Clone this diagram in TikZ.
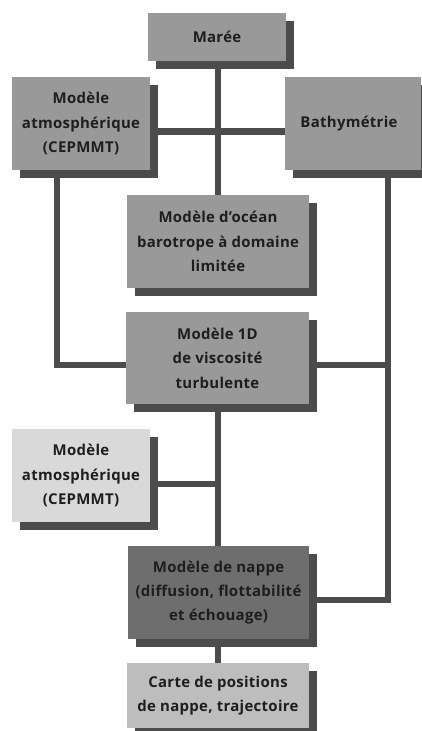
\documentclass[tikz,border=0pt]{standalone}
\usepackage{fontspec}
\setmainfont{Open Sans}[LetterSpace=2]
\definecolor{boxgray}{HTML}{999999}
\definecolor{lightgray}{HTML}{D9D9D9}
\definecolor{cartegray}{HTML}{BDBDBD}
\definecolor{darkbox}{HTML}{6E6E6E}
\definecolor{shadowgray}{HTML}{4C4C4C}
\definecolor{textgray}{HTML}{1E1E1E}
\begin{document}
\begin{tikzpicture}[x=1bp,y=-1bp,
  box/.style={rectangle, fill=boxgray, inner sep=0pt, align=center,
    text=textgray, font=\bfseries\fontsize{15}{24.5}\selectfont,
    drop shadow box},
  drop shadow box/.style={preaction={fill=shadowgray, transform canvas={shift={(8bp,-8bp)}}}},
  link/.style={draw=shadowgray, line width=6bp}]
\useasboundingbox (0,0) rectangle (421,731);
% coordinates for lines
\coordinate (lc) at (57,365);
\coordinate (rc) at (388,365);
\coordinate (rb) at (388,600);
\begin{scope}[every node/.style={inner sep=0pt}]
\path
 (217,37) node[minimum width=138bp, minimum height=48bp] (maree) {}
 (81,123.5) node[minimum width=138bp, minimum height=93bp] (atm1) {}
 (353,123.5) node[minimum width=136bp, minimum height=93bp] (bathy) {}
 (218,241.5) node[minimum width=182bp, minimum height=93bp] (ocean) {}
 (217.5,358) node[minimum width=183bp, minimum height=92bp] (oned) {}
 (81,475.5) node[minimum width=138bp, minimum height=93bp] (atm2) {}
 (218.5,592.5) node[minimum width=181bp, minimum height=93bp] (nappe) {}
 (218,695.5) node[minimum width=182bp, minimum height=65bp] (carte) {};
\end{scope}
\coordinate (mid) at (218,131.5);
\coordinate (mid2) at (218,484);
\draw[link] (218,37) -- (218,241.5);
\draw[link] (atm1.east |- mid) -- (bathy.west |- mid);
\draw[link] (atm1.south -| lc) -- (lc) -- (oned.west |- lc);
\draw[link] (oned.east |- rc) -- (rc);
\draw[link] (bathy.south -| rb) -- (rb) -- (nappe.east |- rb);
\draw[link] (218,358) -- (218,695.5);
\draw[link] (atm2.east |- mid2) -- (mid2);
% boxes
\node[box, minimum width=138bp, minimum height=48bp] (mareeB) at (maree) {Marée};
\node[box, minimum width=138bp, minimum height=93bp] (atm1B) at (atm1) {Modèle\\atmosphérique\\(CEPMMT)};
\node[box, minimum width=136bp, minimum height=93bp] (bathyB) at (bathy) {\hspace*{-8bp}Bathymétrie};
\node[box, minimum width=182bp, minimum height=93bp] (oceanB) at (ocean) {Modèle d\symbol{39}océan\\barotrope à domaine\\limitée};
\node[box, minimum width=183bp, minimum height=92bp] (onedB) at (oned) {Modèle 1D\\de viscosité\\turbulente};
\node[box, fill=lightgray, minimum width=138bp, minimum height=93bp] (atm2B) at (atm2) {Modèle\\atmosphérique\\(CEPMMT)};
\node[box, fill=darkbox, minimum width=181bp, minimum height=93bp] (nappeB) at (nappe) {Modèle de nappe\\(diffusion, flottabilité\\et échouage)};
\node[box, fill=cartegray, minimum width=182bp, minimum height=65bp] (carteB) at (carte) {Carte de positions\\de nappe, trajectoire};
\end{tikzpicture}
\end{document}
